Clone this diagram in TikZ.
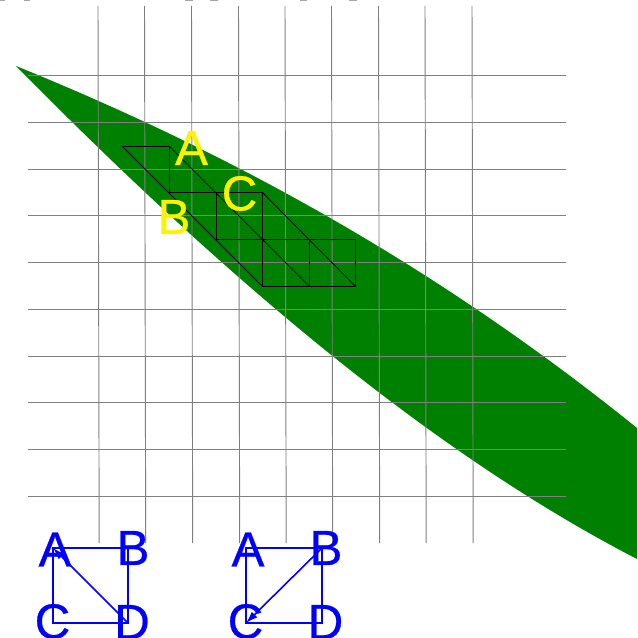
\documentclass[tikz,border=0pt]{standalone}
\usepackage{fontspec}
\setmainfont{Liberation Sans}
\newfontfamily\labelfont[FakeBold=0.5]{Liberation Sans}
\usetikzlibrary{arrows.meta}
\tikzset{
  gridline/.style={gray,line width=0.7pt},
  meshline/.style={black,line width=0.6pt},
  graphline/.style={blue,line width=1.2pt},
  yellowlabel/.style={yellow,font=\labelfont\fontsize{37}{37}\selectfont,inner sep=0pt},
  bluelabel/.style={blue,font=\labelfont\fontsize{37}{37}\selectfont,inner sep=0pt}
}
\begin{document}
\begin{tikzpicture}[x=0.75pt,y=-0.75pt,>={Latex[length=9pt,width=6pt]}]
  \useasboundingbox (0,0) rectangle (637,638);
  % --- Blatt ---
  \fill[green!50!black] (16,66) .. controls (223,150) and (430,261) .. (637,428)
    -- (637,559) .. controls (430,452) and (223,276) .. (16,66) -- cycle;
  % --- Gitter ---
  \foreach \y in {75.5,122,169,215.5,262,309,356,402.5,449.5,496}
    \draw[gridline] (28,\y) -- (566,\y);
  \foreach \x in {98,144.5,191.5,238.5,285,331.5,378.5,425,472}
    \draw[gridline] (\x,6) -- (\x+1.2,543);
  % --- Reste am oberen Rand ---
  \foreach \x/\w in {0/5,24/6,185/8,210/8,300/7,349/8}
    \draw[gray!70,line width=1pt] (\x,0) -- (\x+\w,0);
  % --- Netz ---
  \draw[meshline] (122,146) -- (169,146) -- (169,192) -- (262,192) -- (262,286);
  \draw[meshline] (216,192) -- (216,239) -- (355,239) -- (355,286) -- (262,286);
  \draw[meshline] (309,239) -- (309,286);
  \draw[meshline] (122,146) -- (262,286);
  \draw[meshline] (169,146) -- (309,286);
  \draw[meshline] (262,192) -- (355,286);
  \node[yellowlabel] (labA) at (191.5,148) {A};
  \node[yellowlabel] (labB) at (174,217) {B};
  \node[yellowlabel] (labC) at (239.5,193.5) {C};
  % --- Graphen unten ---
  \begin{scope}
    \coordinate (a1) at (53,548);
    \coordinate (b1) at (128,548);
    \coordinate (c1) at (53,623);
    \coordinate (d1) at (128,623);
    \draw[graphline] (a1) -- (b1) -- (d1) -- (c1) -- cycle;
    \draw[graphline,->] (d1) -- (a1);
    \node[bluelabel] (labA1) at (55,549.5) {A};
    \node[bluelabel] (labB1) at (133,548) {B};
    \node[bluelabel] (labC1) at (52.5,621.5) {C};
    \node[bluelabel] (labD1) at (132,622) {D};
  \end{scope}
  \begin{scope}
    \coordinate (a2) at (246,548);
    \coordinate (b2) at (322,548);
    \coordinate (c2) at (246,623);
    \coordinate (d2) at (322,623);
    \draw[graphline] (a2) -- (b2) -- (d2) -- (c2) -- cycle;
    \draw[graphline,->] (b2) -- (c2);
    \node[bluelabel] (labA2) at (248,549.5) {A};
    \node[bluelabel] (labB2) at (326,548) {B};
    \node[bluelabel] (labC2) at (245.5,621.5) {C};
    \node[bluelabel] (labD2) at (325.5,622) {D};
  \end{scope}
\end{tikzpicture}
\end{document}
